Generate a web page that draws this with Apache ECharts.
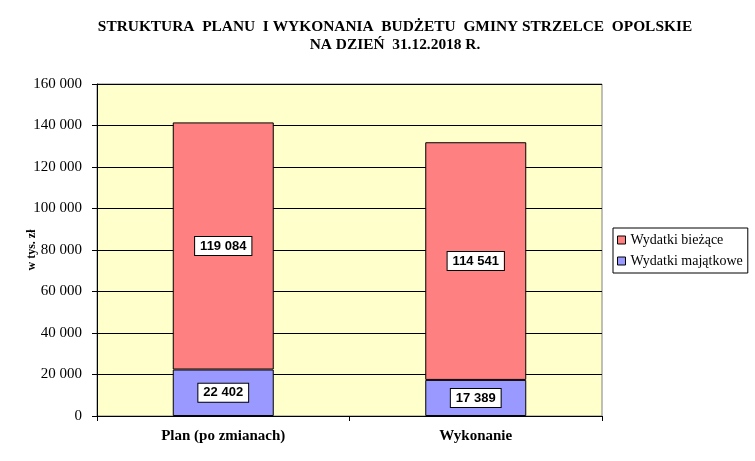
<!DOCTYPE html>
<html>
<head>
<meta charset="utf-8">
<script src="https://cdn.jsdelivr.net/npm/echarts@6/dist/echarts.min.js"></script>
<style>
html,body{margin:0;padding:0;background:#fff;}
#chart{width:755px;height:461px;}
</style>
</head>
<body>
<div id="chart"></div>
<script>
const categories = ['Plan (po zmianach)', 'Wykonanie'];
const wydatkiMajatkowe = [22402, 17389];
const wydatkiBiezace = [119084, 114541];
const yTicks = [0, 20000, 40000, 60000, 80000, 100000, 120000, 140000, 160000];
const legendNames = ['Wydatki bieżące', 'Wydatki majątkowe'];

function fmt(v) {
  return String(v).replace(/\B(?=(\d{3})+(?!\d))/g, ' ');
}

const labelStyle = {
  show: true,
  position: 'inside',
  formatter: p => fmt(p.value),
  fontFamily: 'Liberation Sans, Arial, sans-serif',
  fontWeight: 'bold',
  fontSize: 13,
  color: '#000',
  backgroundColor: '#fff',
  borderColor: '#000',
  borderWidth: 1,
  padding: [3, 5, 2, 5]
};

const chart = echarts.init(document.getElementById('chart'), null, {renderer: 'canvas'});
chart.setOption({
  animation: false,
  backgroundColor: '#fff',
  title: {
    text: 'STRUKTURA  PLANU  I WYKONANIA  BUDŻETU  GMINY STRZELCE  OPOLSKIE\nNA DZIEŃ  31.12.2018 R.',
    left: 395,
    top: 18,
    padding: 0,
    textAlign: 'center',
    textStyle: {
      fontFamily: 'Liberation Serif, Times New Roman, serif',
      fontWeight: 'bold',
      fontSize: 15.4,
      lineHeight: 18,
      color: '#000'
    }
  },
  legend: {
    data: legendNames,
    orient: 'vertical',
    left: 613,
    top: 228,
    padding: [5, 5, 5, 4],
    itemGap: 7,
    itemWidth: 8,
    itemHeight: 8,
    icon: 'rect',
    borderColor: '#000',
    borderWidth: 1,
    backgroundColor: '#fff',
    itemStyle: {borderColor: '#000', borderWidth: 1},
    textStyle: {
      fontFamily: 'Liberation Serif, Times New Roman, serif',
      fontSize: 14,
      color: '#000'
    }
  },
  grid: {
    left: 97,
    right: 153,
    top: 84,
    bottom: 45,
    show: true,
    backgroundColor: '#FFFFCC',
    borderColor: '#808080',
    borderWidth: 1
  },
  xAxis: {
    type: 'category',
    data: categories,
    axisLine: {lineStyle: {color: '#000', width: 1}},
    axisTick: {show: true, length: 5, lineStyle: {color: '#000'}},
    axisLabel: {
      margin: 13,
      fontFamily: 'Liberation Serif, Times New Roman, serif',
      fontWeight: 'bold',
      fontSize: 15,
      color: '#000'
    }
  },
  yAxis: {
    type: 'value',
    min: yTicks[0],
    max: yTicks[yTicks.length - 1],
    interval: yTicks[1] - yTicks[0],
    name: 'w tys. zł',
    nameLocation: 'middle',
    nameRotate: 90,
    nameGap: 59,
    nameMoveOverlap: false,
    nameTextStyle: {
      fontFamily: 'Liberation Serif, Times New Roman, serif',
      fontWeight: 'bold',
      fontSize: 12,
      color: '#000'
    },
    axisLine: {show: true, lineStyle: {color: '#000', width: 1}},
    axisTick: {show: true, length: 5, lineStyle: {color: '#000'}},
    axisLabel: {
      margin: 15,
      formatter: v => fmt(v),
      fontFamily: 'Liberation Serif, Times New Roman, serif',
      fontSize: 15,
      color: '#000'
    },
    splitLine: {show: true, lineStyle: {color: '#000', width: 1}}
  },
  series: [
    {
      name: 'Wydatki majątkowe',
      type: 'bar',
      stack: 'total',
      data: wydatkiMajatkowe,
      barWidth: '40%',
      itemStyle: {color: '#9999FF', borderColor: '#000', borderWidth: 1},
      label: labelStyle
    },
    {
      name: 'Wydatki bieżące',
      type: 'bar',
      stack: 'total',
      data: wydatkiBiezace,
      barWidth: '40%',
      itemStyle: {color: '#FF8080', borderColor: '#000', borderWidth: 1},
      label: labelStyle
    }
  ]
});
</script>
</body>
</html>
